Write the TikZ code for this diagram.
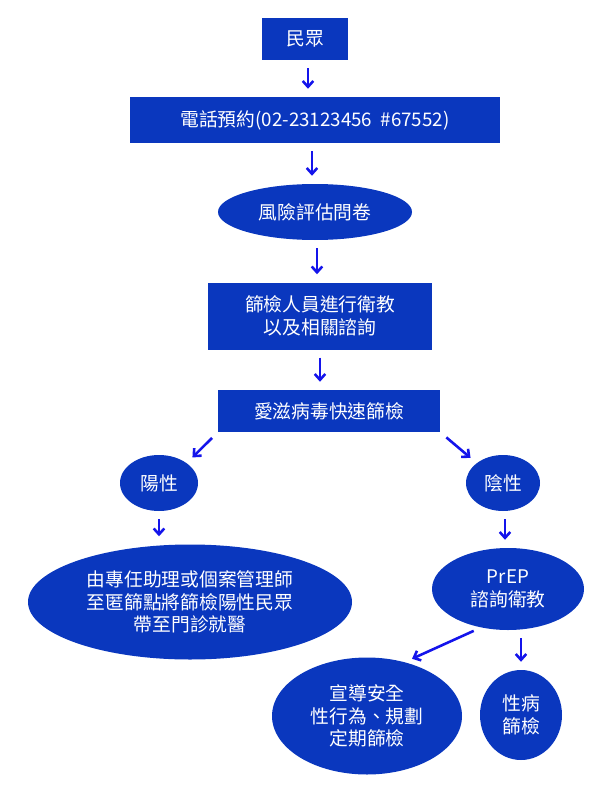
\documentclass[tikz,border=0pt]{standalone}
\usepackage{fontspec}
\setmainfont{Noto Sans CJK TC}
\usetikzlibrary{shapes.geometric,arrows.meta}
\definecolor{boxblue}{RGB}{10,55,190}
\definecolor{arrblue}{RGB}{20,20,235}
\begin{document}
\begin{tikzpicture}[x=0.03cm,y=-0.03cm]
            \useasboundingbox (0,0) rectangle (600,788);
            \begin{scope}[every node/.style={fill=boxblue,text=white,inner sep=0pt,align=center,font=\fontsize{16}{19}\selectfont}]
                \node[minimum width=86*0.03cm,minimum height=42*0.03cm] (people) at (305,39) {民眾};
                \node[minimum width=370*0.03cm,minimum height=46*0.03cm] (phone) at (315,120) {電話預約(02-23123456 \ \#67552)};
                \node[ellipse,minimum width=194*0.03cm,minimum height=56*0.03cm] (risk) at (315,212) {風險評估問卷};
                \node[minimum width=224*0.03cm,minimum height=67*0.03cm] (edu) at (320,316) {篩檢人員進行衛教\\以及相關諮詢};
                \node[minimum width=222*0.03cm,minimum height=42*0.03cm] (aids) at (329,411) {愛滋病毒快速篩檢};
                \node[ellipse,minimum width=78*0.03cm,minimum height=56*0.03cm] (yang) at (159,483) {陽性};
                \node[ellipse,minimum width=74*0.03cm,minimum height=56*0.03cm] (yin) at (503,483) {陰性};
                \node[ellipse,minimum width=324*0.03cm,minimum height=115*0.03cm] (clinic) at (190,602) {由專任助理或個案管理師\\至匿篩點將篩檢陽性民眾\\帶至門診就醫};
                \node[ellipse,minimum width=152*0.03cm,minimum height=82*0.03cm] (prep) at (508,589) {PrEP\\諮詢衛教};
                \node[ellipse,minimum width=190*0.03cm,minimum height=117*0.03cm] (safe) at (367,716) {宣導安全\\性行為、規劃\\定期篩檢};
                \node[ellipse,minimum width=82*0.03cm,minimum height=90*0.03cm] (std) at (521,715) {性病\\篩檢};
            \end{scope}
            \begin{scope}[every edge/.style={draw,arrblue,line width=2.2pt,-{Straight Barb[length=5pt,width=9pt]},shorten <=8*0.03cm,shorten >=8*0.03cm}]
                \path
                    (people.south) ++(3,0) coordinate (p1) (phone.north) ++(-7,0) coordinate (p2)
                    (p1) edge (p2)
                    (phone.south) ++(-3,0) coordinate (f1) (risk.north) ++(-3,0) coordinate (f2)
                    (f1) edge (f2)
                    (risk.south) ++(2,0) coordinate (r1) (edu.north) ++(-3,0) coordinate (r2)
                    (r1) edge (r2)
                    (edu.south) ++(0,0) coordinate (e1) (aids.north) ++(-9,0) coordinate (e2)
                    (e1) edge (e2)
                    (aids.south west) edge (yang.north east)
                    (aids.south east) edge (yin.north west)
                    (yang.south) edge (clinic.north -| yang.south)
                    (yin.south) ++(2,0) coordinate (y1) (prep.north) ++(-3,0) coordinate (y2)
                    (y1) edge (y2)
                    (prep.235) edge (safe.55)
                    (prep.south -| std.north) edge (std.north);
            \end{scope}
        \end{tikzpicture}
\end{document}
